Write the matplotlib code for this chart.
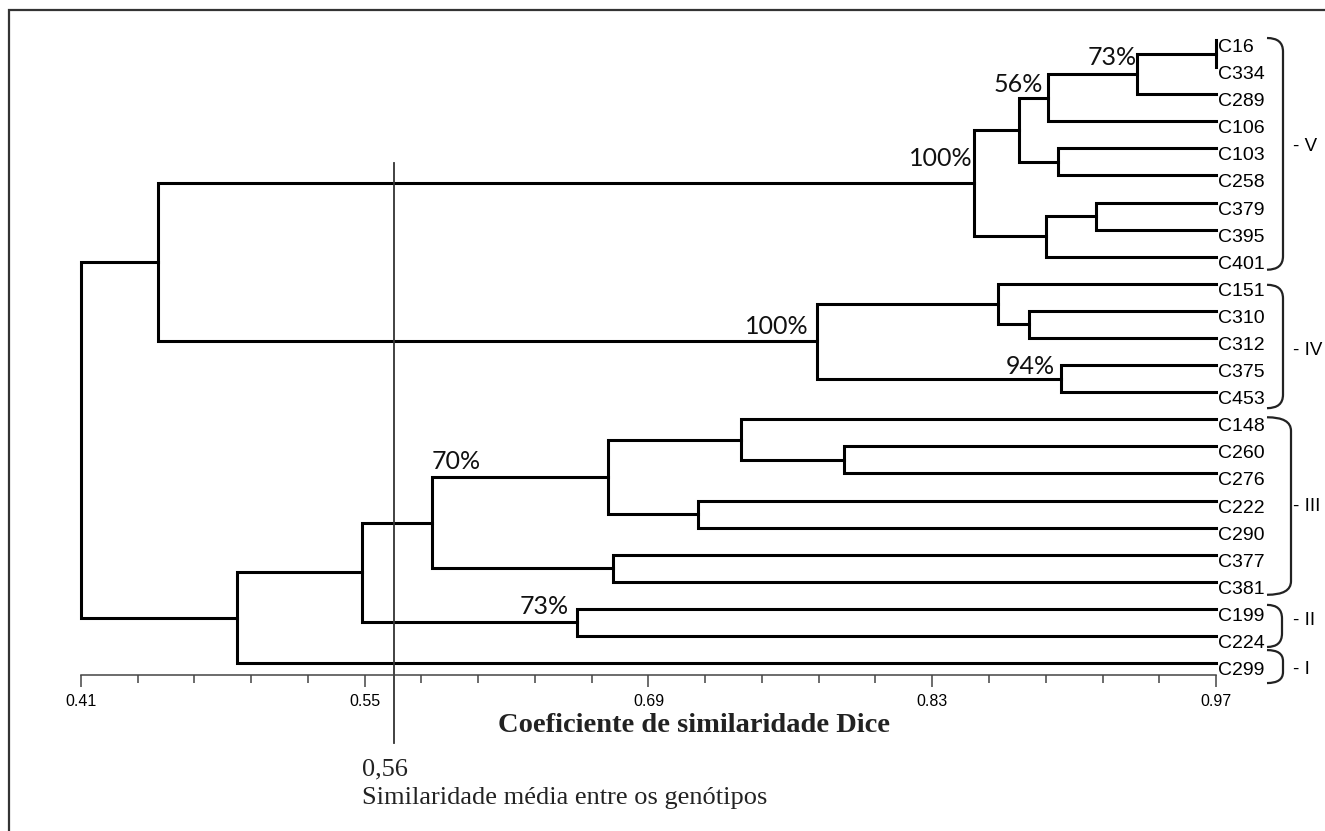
import matplotlib
matplotlib.use("Agg")
import matplotlib.pyplot as plt
import numpy as np
from matplotlib.path import Path
from matplotlib.patches import PathPatch, Rectangle

# ---------------------------------------------------------------------------
# Data (Dice similarity)
# ---------------------------------------------------------------------------
leaves = ["C16", "C334", "C289", "C106", "C103", "C258", "C379", "C395", "C401",
          "C151", "C310", "C312", "C375", "C453",
          "C148", "C260", "C276", "C222", "C290", "C377", "C381",
          "C199", "C224", "C299"]

merge_node = ["m1", "m2", "m3", "m4", "m5", "m6", "m7", "m8",
              "m9", "m10", "m11", "m12", "m13",
              "m14", "m15", "m16", "m17", "m18", "m19", "m20", "m21", "m22", "m23"]
merge_a = ["C16", "m1", "m2", "C103", "m3", "C379", "m6", "m5",
           "C310", "C151", "C375", "m10", "m8",
           "C260", "C148", "C222", "m15", "C377", "m17", "C199", "m19", "m21", "m13"]
merge_b = ["C334", "C289", "C106", "C258", "m4", "C395", "C401", "m7",
           "C312", "m9", "C453", "m11", "m12",
           "C276", "m14", "C290", "m16", "C381", "m18", "C224", "m20", "C299", "m22"]
merge_sim = [0.970, 0.931, 0.887, 0.892, 0.873, 0.911, 0.886, 0.8505,
             0.8777, 0.8624, 0.8935, 0.773, 0.448,
             0.7864, 0.7356, 0.7144, 0.670, 0.6725, 0.5832, 0.6547, 0.5486, 0.487, 0.41]

boot_node = ["m2", "m3", "m8", "m12", "m11", "m19", "m20"]
boot_text = ["73%", "56%", "100%", "100%", "94%", "70%", "73%"]

group_names = ["- V", "- IV", "- III", "- II", "- I"]
group_first = ["C16", "C151", "C148", "C199", "C299"]
group_last = ["C401", "C453", "C381", "C224", "C299"]

major_ticks = [0.41, 0.55, 0.69, 0.83, 0.97]
major_labels = ["0.41", "0.55", "0.69", "0.83", "0.97"]
minor_step = 0.028

avg_sim = 0.5645          # where the reference line sits
avg_sim_label = "0,56"

# ---------------------------------------------------------------------------
# Layout (pixels)
# ---------------------------------------------------------------------------
W, H = 1325, 831
Y0, STEP = 40.0, 27.09            # first leaf row, row spacing
AX_L, AX_R, AX_B, AX_T = 81, 1216, 675, 13
LW = 2.2
SANS = ["Liberation Sans", "DejaVu Sans"]
PCT_FONT = ["Lato", "DejaVu Sans"]
SERIF = ["Liberation Serif", "DejaVu Serif"]

# label offsets in pixels (dx, dy, ha)
boot_offsets = [(0, 9, "right"), (-5, 6, "right"), (-1, 17, "right"),
                (-8, 7, "right"), (-6, 5, "right"), (0, 54, "left"), (-8, 8, "right")]


def px_to_row(py):
    return (py - Y0) / STEP


def px_to_sim(px):
    return major_ticks[0] + (px - AX_L) * (major_ticks[-1] - major_ticks[0]) / (AX_R - AX_L)


fig = plt.figure(figsize=(W / 100, H / 100), dpi=100)
ax = fig.add_axes([AX_L / W, 1 - AX_B / H, (AX_R - AX_L) / W, (AX_B - AX_T) / H])
ax.set_xlim(major_ticks[0], major_ticks[-1])
ax.set_ylim(px_to_row(AX_B), px_to_row(AX_T))
ax.patch.set_visible(False)

# outer frame
fig.add_artist(Rectangle((9 / W, -0.1), 1.2, (H - 10) / H + 0.1,
                         transform=fig.transFigure, fill=False, lw=1.6, ec="#333333"))

# dendrogram
leaf_x = major_ticks[-1]
pos_x = {n: leaf_x for n in leaves}
pos_y = {n: i for i, n in enumerate(leaves)}
for node, a, b, s in zip(merge_node, merge_a, merge_b, merge_sim):
    ax.plot([pos_x[a], s, s, pos_x[b]], [pos_y[a], pos_y[a], pos_y[b], pos_y[b]],
            color="black", lw=LW, solid_joinstyle="miter", clip_on=False)
    pos_x[node] = s
    pos_y[node] = (pos_y[a] + pos_y[b]) / 2

# bootstrap labels
for node, txt, (dx, dy, ha) in zip(boot_node, boot_text, boot_offsets):
    ax.annotate(txt, xy=(pos_x[node], pos_y[node]), xytext=(dx, dy),
                textcoords="offset pixels", ha=ha, va="baseline",
                fontsize=18, family=PCT_FONT, color="#111111", annotation_clip=False)

# leaf labels
for i, name in enumerate(leaves):
    ax.annotate(name, xy=(leaf_x, i), xytext=(2, -12), textcoords="offset pixels",
                ha="left", va="baseline", fontsize=14, family=SANS,
                annotation_clip=False)

# group brackets
x_open = px_to_sim(1267)
x_vert = [px_to_sim(p) for p in (1283, 1283, 1291, 1282, 1283)]
x_lab = px_to_sim(1293)
pads = [(2, 13), (-1, 16), (2, 13), (4, 11), (13, 20)]
lab_dy = [7, -4, 0, 5, -3]
for name, first, last, xv, (pt, pb), ldy in zip(group_names, group_first, group_last,
                                               x_vert, pads, lab_dy):
    top = pos_y[first] - pt / STEP
    bot = pos_y[last] + pb / STEP
    r = min(0.5, (bot - top) / 3)
    verts = [(x_open, top), (xv, top), (xv, top + r), (xv, bot - r),
             (xv, bot), (x_open, bot)]
    codes = [Path.MOVETO, Path.CURVE3, Path.CURVE3, Path.LINETO,
             Path.CURVE3, Path.CURVE3]
    ax.add_patch(PathPatch(Path(verts, codes), fill=False, lw=1.6,
                           ec="#222222", clip_on=False))
    ax.annotate(name, xy=(x_lab, (top + bot) / 2), xytext=(0, ldy),
                textcoords="offset pixels", ha="left", va="center",
                fontsize=13.5, family=SANS, annotation_clip=False)

# reference line for mean similarity
ax.plot([avg_sim, avg_sim], [px_to_row(163), px_to_row(743)], color="#333333",
        lw=1.3, clip_on=False)
fig.text(362 / W, 1 - 775 / H, avg_sim_label, fontsize=19, family=SERIF,
         va="baseline", ha="left", color="#222222")
fig.text(362 / W, 1 - 804 / H, "Similaridade média entre os genótipos",
         fontsize=19, family=SERIF, va="baseline", ha="left", color="#222222")

# x axis
for side in ("top", "right", "left"):
    ax.spines[side].set_visible(False)
ax.spines["bottom"].set_color("#444444")
ax.spines["bottom"].set_linewidth(1.1)
ax.set_yticks([])
ax.set_xticks(major_ticks)
ax.set_xticklabels(major_labels, family=SANS, fontsize=11.5)
ax.set_xticks(np.arange(major_ticks[0], major_ticks[-1] + 1e-9, minor_step), minor=True)
ax.tick_params(axis="x", which="major", length=8.6, width=1.1, color="#444444", pad=5)
ax.tick_params(axis="x", which="minor", length=5.8, width=1.1, color="#444444")

fig.text(694 / W, 1 - 732 / H, "Coeficiente de similaridade Dice", fontsize=20.5,
         family=SERIF, weight="bold", ha="center", va="baseline", color="#222222")

fig.savefig("out.png", dpi=100)
